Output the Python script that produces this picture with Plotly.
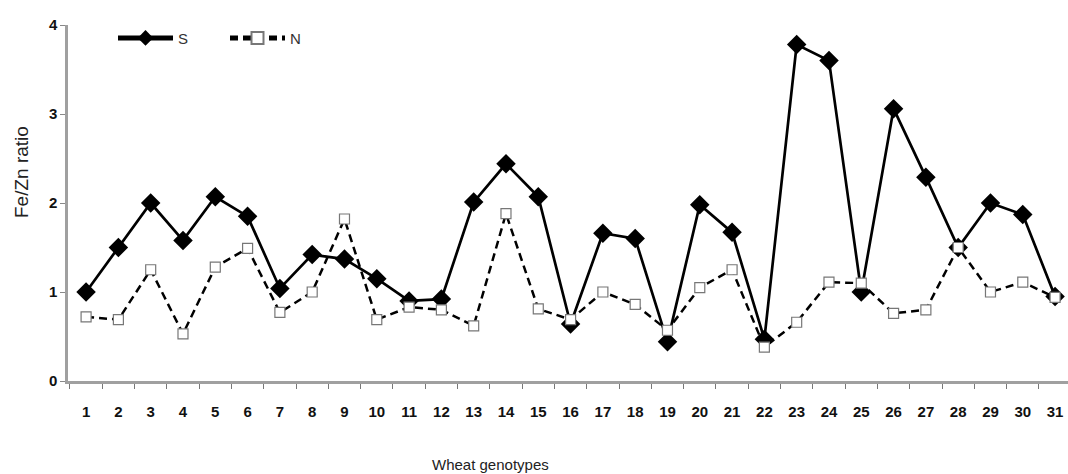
import plotly.graph_objects as go

genotypes = list(range(1, 32))
tick_labels = [str(g) for g in genotypes]
s_values = [1.00, 1.50, 2.00, 1.58, 2.07, 1.85, 1.04, 1.42, 1.37, 1.15,
            0.90, 0.92, 2.01, 2.44, 2.07, 0.64, 1.66, 1.60, 0.44, 1.98,
            1.67, 0.47, 3.78, 3.60, 1.00, 3.06, 2.29, 1.50, 2.00, 1.87, 0.95]
n_values = [0.72, 0.69, 1.25, 0.53, 1.28, 1.49, 0.77, 1.00, 1.82, 0.69,
            0.83, 0.80, 0.62, 1.88, 0.81, 0.69, 1.00, 0.86, 0.57, 1.05,
            1.25, 0.38, 0.66, 1.11, 1.10, 0.76, 0.80, 1.50, 1.00, 1.11, 0.94]
y_ticks = [0, 1, 2, 3, 4]

font_family = "Liberation Sans Narrow, Liberation Sans, Arial, sans-serif"

fig = go.Figure()
fig.add_trace(go.Scatter(
    x=genotypes, y=s_values, name="S", mode="lines+markers",
    line=dict(color="black", width=2.7),
    marker=dict(symbol="diamond", size=15, color="black"),
))
fig.add_trace(go.Scatter(
    x=genotypes, y=n_values, name="N", mode="lines+markers",
    line=dict(color="black", width=2.5, dash="8px,5px"),
    marker=dict(symbol="square", size=10, color="white",
                line=dict(color="#777777", width=1.2)),
))

fig.update_layout(
    width=1068, height=474,
    margin=dict(l=68, r=0, t=25, b=93),
    plot_bgcolor="white", paper_bgcolor="white",
    font=dict(family=font_family, color="#111111"),
    showlegend=True,
    legend=dict(orientation="h", x=0.045, y=0.963, xanchor="left", yanchor="middle",
                font=dict(size=15, family="Liberation Sans, Arial, sans-serif", color="#333333"),
                bgcolor="rgba(0,0,0,0)", itemwidth=55, itemsizing="constant",
                entrywidth=42, entrywidthmode="pixels", tracegroupgap=0),
    xaxis=dict(
        range=[0.44, 31.4],
        tickmode="array", tickvals=genotypes, ticktext=tick_labels,
        ticks="", showgrid=False, zeroline=False,
        showline=True, linecolor="#a0a0a0", linewidth=2.5,
        tickfont=dict(size=15, family=font_family, color="#111111", weight="bold"),
        ticklabelstandoff=15,
        minor=dict(ticks="outside", tick0=0.5, dtick=1, ticklen=5,
                   tickcolor="#777777", tickwidth=1.2),
    ),
    yaxis=dict(
        range=[0, 4], tickvals=y_ticks,
        ticks="outside", ticklen=5, tickcolor="#888888", tickwidth=1.2,
        showgrid=False, zeroline=False,
        showline=True, linecolor="#a0a0a0", linewidth=2.5,
        tickfont=dict(size=15, family=font_family, color="#111111", weight="bold"),
    ),
    annotations=[
        dict(text="Fe/Zn ratio", xref="paper", yref="paper",
             x=-0.047, y=0.587, xanchor="center", yanchor="middle",
             textangle=-90, showarrow=False,
             font=dict(size=19, family="Liberation Sans, Arial, sans-serif", color="#222222")),
        dict(text="Wheat genotypes", xref="paper", yref="paper",
             x=0.422, y=-0.235, xanchor="center", yanchor="middle",
             showarrow=False,
             font=dict(size=15, family="Liberation Sans, Arial, sans-serif", color="#222222")),
    ],
)

fig.write_html("out.html")
